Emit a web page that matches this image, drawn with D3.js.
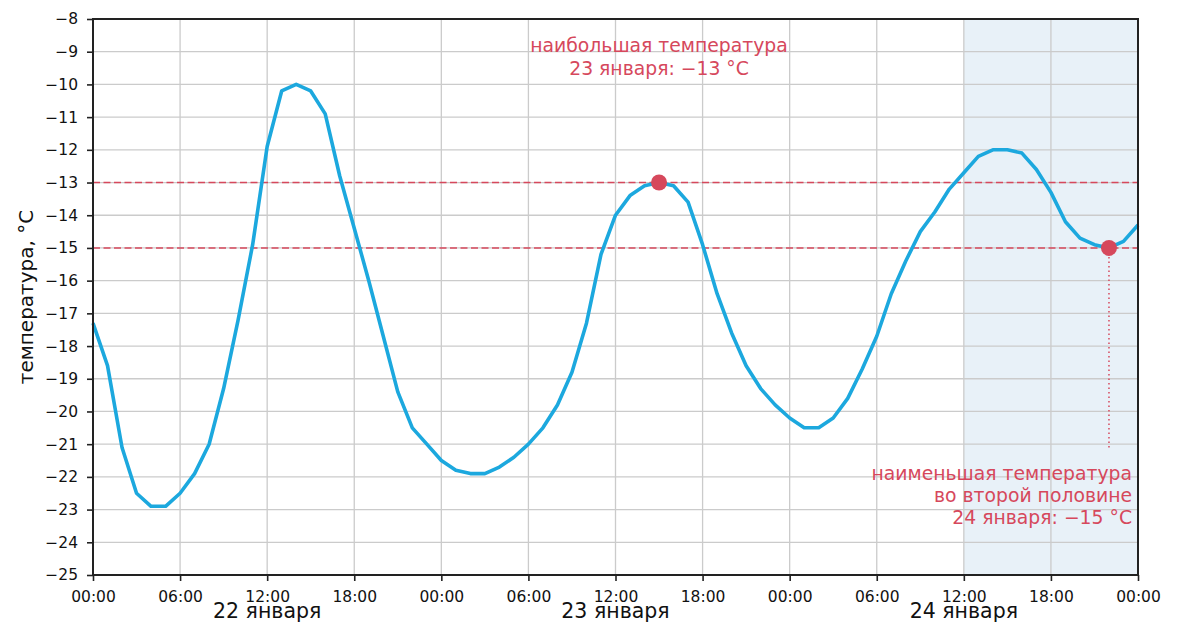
<!DOCTYPE html>
<html>
<head>
<meta charset="utf-8">
<script src="https://d3js.org/d3.v7.min.js"></script>
<style>
  body { margin: 0; background: #fff; }
  text { font-family: "DejaVu Sans", sans-serif; }
  .grid line { stroke: #cbcbcb; stroke-width: 1.3; }
  .axis .domain { display: none; }
  .axis line { stroke: #222; stroke-width: 1.6; }
  .axis text { fill: #111; font-size: 15.5px; }
</style>
</head>
<body>
<svg width="1178" height="636"></svg>
<script>
// hourly temperature, 22 Jan 00:00 .. 25 Jan 00:00
var temps = [
  -17.3, -18.6, -21.1, -22.5, -22.9, -22.9, -22.5, -21.9, -21.0, -19.3, -17.2, -14.9,
  -11.9, -10.2, -10.0, -10.2, -10.9, -12.8, -14.4, -16.0, -17.7, -19.4, -20.5, -21.0,
  -21.5, -21.8, -21.9, -21.9, -21.7, -21.4, -21.0, -20.5, -19.8, -18.8, -17.3, -15.2,
  -14.0, -13.4, -13.1, -13.0, -13.1, -13.6, -14.9, -16.4, -17.6, -18.6, -19.3, -19.8,
  -20.2, -20.5, -20.5, -20.2, -19.6, -18.7, -17.7, -16.4, -15.4, -14.5, -13.9, -13.2,
  -12.7, -12.2, -12.0, -12.0, -12.1, -12.6, -13.3, -14.2, -14.7, -14.9, -15.0, -14.8,
  -14.3
];
var startTime = new Date(Date.UTC(2024, 0, 22, 0));
var endTime = new Date(Date.UTC(2024, 0, 25, 0));
var dayLabels = ["22 января", "23 января", "24 января"];
var yTicks = d3.range(-25, -7);
var refLines = [-13, -15];
var shadeStartHour = 60;
var maxPoint = {hour: 39, value: -13};
var minPoint = {hour: 70, value: -15, lineTo: -21.1};
var maxText = ["наибольшая температура", "23 января: \u221213 °C"];
var minText = ["наименьшая температура", "во второй половине", "24 января: \u221215 °C"];
var yLabel = "температура, °C";

var red = "#d6485c", blue = "#1ca8de";

var margin = {top: 19, right: 40, bottom: 61, left: 93};
var width = 1178 - margin.left - margin.right;
var height = 636 - margin.top - margin.bottom;

var hourTime = function(h) { return d3.utcHour.offset(startTime, h); };

var x = d3.scaleUtc().domain([startTime, endTime]).range([0, width]);
var y = d3.scaleLinear().domain([-25, -8]).range([height, 0]);

var svg = d3.select("svg")
  .append("g")
  .attr("transform", "translate(" + margin.left + "," + margin.top + ")");

// shaded second half of 24 Jan
svg.append("rect")
  .attr("x", x(hourTime(shadeStartHour)))
  .attr("y", 0)
  .attr("width", x(endTime) - x(hourTime(shadeStartHour)))
  .attr("height", height)
  .attr("fill", "#e8f1f8");

// grid
var xTicks = x.ticks(d3.utcHour.every(6));
svg.append("g").attr("class", "grid")
  .selectAll("line").data(xTicks).enter().append("line")
  .attr("x1", d => x(d)).attr("x2", d => x(d))
  .attr("y1", 0).attr("y2", height);
svg.append("g").attr("class", "grid")
  .selectAll("line").data(yTicks).enter().append("line")
  .attr("x1", 0).attr("x2", width)
  .attr("y1", d => y(d)).attr("y2", d => y(d));

// reference lines
svg.selectAll(".ref").data(refLines).enter().append("line")
  .attr("class", "ref")
  .attr("x1", 0).attr("x2", width)
  .attr("y1", d => y(d)).attr("y2", d => y(d))
  .attr("stroke", red).attr("stroke-width", 1.5)
  .attr("stroke-dasharray", "7,3.5");

// temperature line
var line = d3.line()
  .x((d, i) => x(hourTime(i)))
  .y(d => y(d));
svg.append("path")
  .datum(temps)
  .attr("d", line)
  .attr("fill", "none")
  .attr("stroke", blue)
  .attr("stroke-width", 3.6)
  .attr("stroke-linejoin", "round");

// dotted drop line
svg.append("line")
  .attr("x1", x(hourTime(minPoint.hour))).attr("x2", x(hourTime(minPoint.hour)))
  .attr("y1", y(minPoint.value)).attr("y2", y(minPoint.lineTo))
  .attr("stroke", red).attr("stroke-width", 1.5)
  .attr("stroke-dasharray", "1.5,3");

// points
svg.selectAll(".pt").data([maxPoint, minPoint]).enter().append("circle")
  .attr("class", "pt")
  .attr("cx", d => x(hourTime(d.hour)))
  .attr("cy", d => y(d.value))
  .attr("r", 8)
  .attr("fill", red);

// axes
var yAxis = d3.axisLeft(y).tickValues(yTicks).tickSize(6).tickPadding(9);
svg.append("g").attr("class", "axis").call(yAxis);

var xAxis = d3.axisBottom(x)
  .tickValues(xTicks)
  .tickFormat(d3.utcFormat("%H:%M"))
  .tickSize(6).tickPadding(10);
svg.append("g").attr("class", "axis")
  .attr("transform", "translate(0," + height + ")")
  .call(xAxis);

// frame
svg.append("rect")
  .attr("width", width).attr("height", height)
  .attr("fill", "none").attr("stroke", "#222").attr("stroke-width", 2);

// day labels
svg.selectAll(".day").data(dayLabels).enter().append("text")
  .attr("class", "day")
  .attr("x", (d, i) => x(hourTime(i * 24 + 12)))
  .attr("y", height + 43)
  .attr("text-anchor", "middle")
  .attr("font-size", "20.5px")
  .attr("fill", "#111")
  .text(d => d);

// y label
svg.append("text")
  .attr("transform", "translate(" + (33 - margin.left) + "," + (height / 2) + ") rotate(-90)")
  .attr("text-anchor", "middle")
  .attr("font-size", "20px")
  .attr("fill", "#111")
  .text(yLabel);

// annotations
svg.append("g").selectAll("text").data(maxText).enter().append("text")
  .attr("x", x(hourTime(maxPoint.hour)))
  .attr("y", (d, i) => 33 + i * 22.5)
  .attr("text-anchor", "middle")
  .attr("font-size", "18.8px")
  .attr("fill", red)
  .text(d => d);

svg.append("g").selectAll("text").data(minText).enter().append("text")
  .attr("x", width - 6)
  .attr("y", (d, i) => 461 + i * 22)
  .attr("text-anchor", "end")
  .attr("font-size", "18.8px")
  .attr("fill", red)
  .text(d => d);
</script>
</body>
</html>
